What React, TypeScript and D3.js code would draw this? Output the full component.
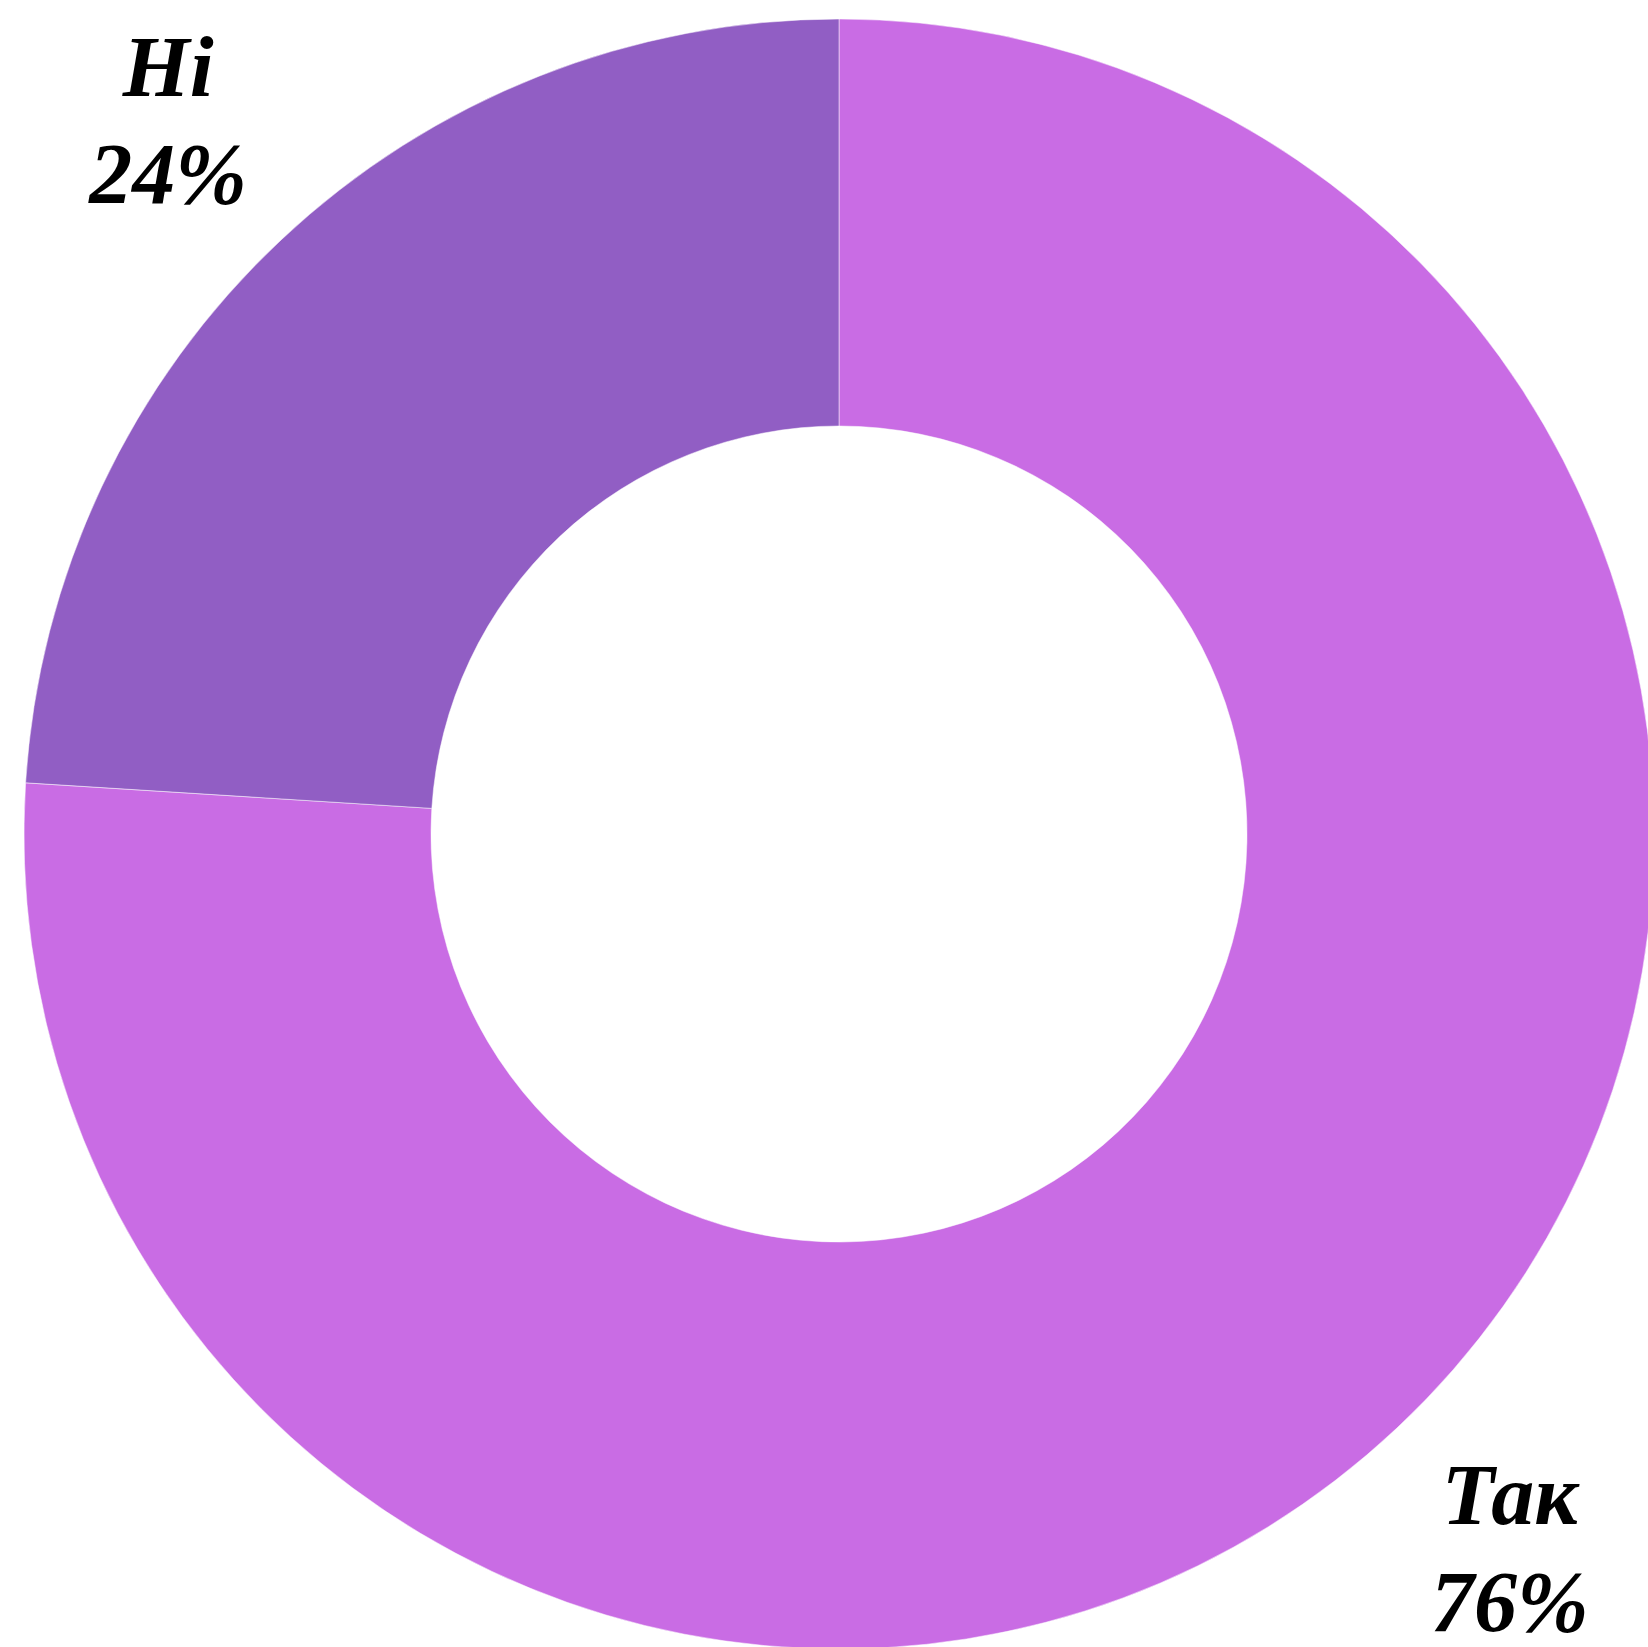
import React, { useEffect, useRef } from "react";
import * as d3 from "d3";

// answers and their shares (percent)
const categories = ["Так", "Ні"];
const values = [76, 24];
const colors = ["#c96ce4", "#915ec4"];

const WIDTH = 1648;
const HEIGHT = 1647;

export default function App() {
  const svgRef = useRef<SVGSVGElement | null>(null);

  useEffect(() => {
    const svg = d3.select(svgRef.current);
    svg.selectAll("*").remove();

    const cx = 839;
    const cy = 834;
    const outer = 815;
    const inner = 408;

    const data = categories.map((c, i) => ({ name: c, value: values[i], color: colors[i] }));
    const pie = d3.pie<any>().value(d => d.value).sort(null);
    const arcs = pie(data);

    const arc = d3.arc<any>().innerRadius(inner).outerRadius(outer);
    const labelArc = d3.arc<any>().innerRadius(980).outerRadius(980);

    const g = svg.append("g").attr("transform", `translate(${cx},${cy})`);

    g.selectAll("path")
      .data(arcs)
      .enter()
      .append("path")
      .attr("d", arc)
      .attr("fill", d => d.data.color)
      .attr("stroke", "#fff")
      .attr("stroke-width", 0.5);

    const labels = g
      .selectAll("text")
      .data(arcs)
      .enter()
      .append("text")
      .attr("transform", d => `translate(${labelArc.centroid(d)})`)
      .attr("text-anchor", "middle")
      .style("font-family", "'Liberation Serif', serif")
      .style("font-style", "italic")
      .style("font-weight", "bold")
      .style("font-size", "86px")
      .attr("fill", "#000");

    labels.append("tspan").attr("x", 0).attr("y", -24).text(d => d.data.name);
    labels.append("tspan").attr("x", 0).attr("y", 83).text(d => `${d.data.value}%`);
  }, []);

  return (
    <svg
      ref={svgRef}
      width={WIDTH}
      height={HEIGHT}
      style={{ position: "absolute", left: 0, top: 0, background: "#fff" }}
    />
  );
}
